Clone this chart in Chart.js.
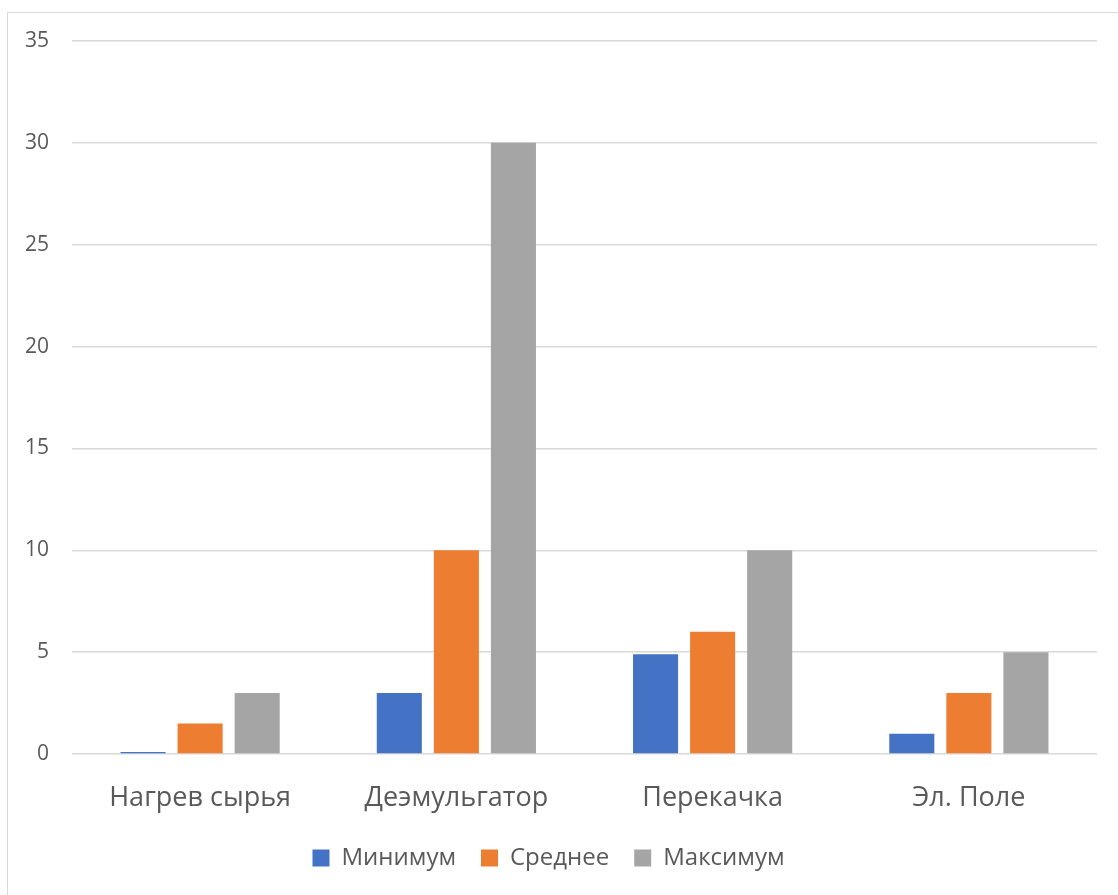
<!DOCTYPE html>
<html>
<head>
<meta charset="utf-8">
<script src="https://cdn.jsdelivr.net/npm/chart.js@4"></script>
<style>
  html,body{margin:0;padding:0;background:#fff;}
  #wrap{position:relative;width:1118px;height:895px;overflow:hidden;}
  #frame{position:absolute;left:7px;top:12px;width:1120px;height:900px;border:1px solid #d9d9d9;box-sizing:border-box;}
  canvas{position:absolute;left:0;top:0;}
</style>
</head>
<body>
<div id="wrap">
  <div id="frame"></div>
  <canvas id="chart" width="1118" height="895"></canvas>
</div>
<script>
const categories = ["Нагрев сырья", "Деэмульгатор", "Перекачка", "Эл. Поле"];
const minValues = [0.1, 3, 4.9, 1];
const avgValues = [1.5, 10, 6, 3];
const maxValues = [3, 30, 10, 5];
const yTicks = [0, 5, 10, 15, 20, 25, 30, 35];

const FONT = "'Open Sans', sans-serif";
const TXT = "#595959";

new Chart(document.getElementById("chart"), {
  type: "bar",
  data: {
    labels: categories,
    datasets: [
      {label: "Минимум", data: minValues, backgroundColor: "#4472C4"},
      {label: "Среднее", data: avgValues, backgroundColor: "#ED7D31"},
      {label: "Максимум", data: maxValues, backgroundColor: "#A5A5A5"}
    ]
  },
  options: {
    responsive: false,
    animation: false,
    layout: {padding: {left: 0, right: 21, top: 41, bottom: 15}},
    datasets: {bar: {categoryPercentage: 0.668, barPercentage: 0.79}},
    plugins: {
      tooltip: {enabled: false},
      legend: {
        position: "bottom",
        labels: {boxWidth: 17, boxHeight: 17, padding: 25, color: TXT, font: {family: FONT, size: 24}}
      }
    },
    scales: {
      x: {
        grid: {display: false, drawTicks: false},
        border: {display: false},
        ticks: {color: TXT, padding: 28, font: {family: FONT, size: 27}},
        afterFit: s => { s.height = 67; }
      },
      y: {
        min: 0, max: 35,
        afterBuildTicks: s => { s.ticks = yTicks.map(v => ({value: v})); },
        grid: {color: "#d9d9d9", lineWidth: 1.5, drawTicks: false},
        border: {display: false},
        ticks: {color: TXT, padding: 23, font: {family: FONT, size: 21}},
        afterFit: s => { s.width = 72; }
      }
    }
  }
});
</script>
</body>
</html>
